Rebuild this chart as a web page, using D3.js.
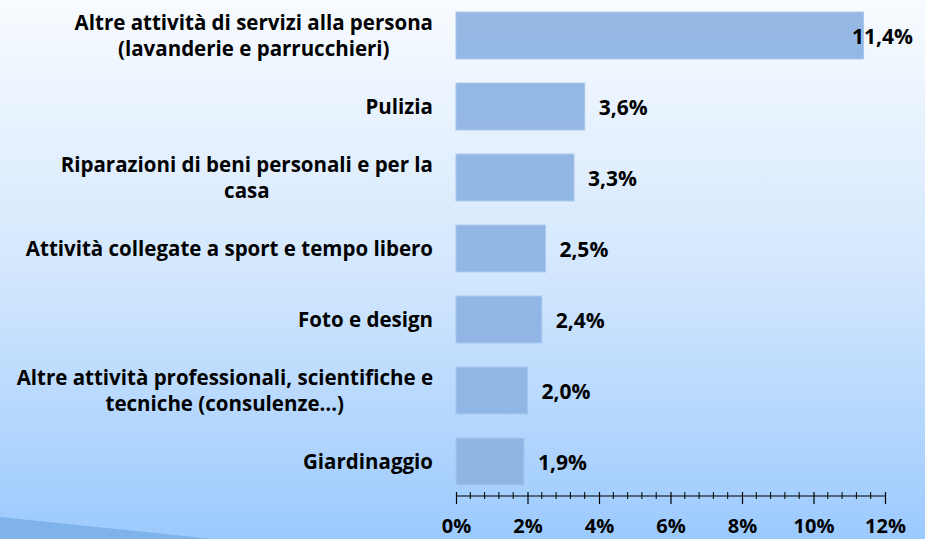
<!DOCTYPE html>
<html>
<head>
<meta charset="utf-8">
<script src="https://cdn.jsdelivr.net/npm/d3@7"></script>
<style>
  html, body { margin: 0; padding: 0; }
  body { width: 925px; height: 539px; overflow: hidden; }
  text { font-family: "Open Sans", Lato, sans-serif; font-weight: bold; fill: #000; }
</style>
</head>
<body>
<svg id="chart" width="925" height="539"></svg>
<script>
// ------------------- data -------------------
var categories = [
  ["Altre attività di servizi alla persona", "(lavanderie e parrucchieri)"],
  ["Pulizia"],
  ["Riparazioni di beni personali e per la", "casa"],
  ["Attività collegate a sport e tempo libero"],
  ["Foto e design"],
  ["Altre attività professionali, scientifiche e", "tecniche (consulenze…)"],
  ["Giardinaggio"]
];
var values = [11.4, 3.6, 3.3, 2.5, 2.4, 2.0, 1.9];
var valueLabels = ["11,4%", "3,6%", "3,3%", "2,5%", "2,4%", "2,0%", "1,9%"];
var tickValues = [0, 2, 4, 6, 8, 10, 12];
var tickLabels = ["0%", "2%", "4%", "6%", "8%", "10%", "12%"];

var W = 925, H = 539;
var svg = d3.select('#chart');

// ---------- background: vertical gradient + swoosh bottom left ----------
var defs = svg.append('defs');
var grad = defs.append('linearGradient')
  .attr('id', 'bg').attr('x1', 0).attr('y1', 0).attr('x2', 0).attr('y2', 1);
grad.append('stop').attr('offset', '0%').attr('stop-color', '#f8fbff');
grad.append('stop').attr('offset', '50%').attr('stop-color', '#d3e7fd');
grad.append('stop').attr('offset', '100%').attr('stop-color', '#9ccafe');

svg.append('rect').attr('width', W).attr('height', H).attr('fill', 'url(#bg)');
svg.append('path')
  .attr('d', 'M0,517 L213,539 L0,539 Z')
  .attr('fill', '#80b3ea');

// ---------------------------- scales ----------------------------
var x = d3.scaleLinear().domain([0, 12]).range([456, 885]);
var y = d3.scaleBand().domain(d3.range(values.length)).range([0, 497]).paddingInner(0.34).paddingOuter(0.17);

// ----------------------------- bars -----------------------------
svg.selectAll('rect.bar')
  .data(values)
  .enter()
  .append('rect')
  .attr('class', 'bar')
  .attr('x', x(0))
  .attr('y', (d, i) => y(i))
  .attr('width', d => x(d) - x(0))
  .attr('height', y.bandwidth())
  .attr('fill', '#8db3e3')
  .attr('fill-opacity', 0.93)
  .attr('stroke', '#a6c6ec')
  .attr('stroke-width', 1);

// ------------------------- value labels -------------------------
// the biggest one does not fit after the bar, so it sits at the right edge
svg.selectAll('text.val')
  .data(values)
  .enter()
  .append('text')
  .attr('class', 'val')
  .attr('font-size', 21)
  .attr('x', d => x(d) + 14 > 850 ? 913 : x(d) + 14)
  .attr('text-anchor', d => x(d) + 14 > 850 ? 'end' : 'start')
  .attr('y', (d, i) => y(i) + y.bandwidth() / 2 + 8)
  .text((d, i) => valueLabels[i]);

// ----------------------- category labels -----------------------
var cats = svg.selectAll('text.cat')
  .data(categories)
  .enter()
  .append('text')
  .attr('class', 'cat')
  .attr('font-size', 20.5)
  .attr('text-anchor', 'end')
  .attr('y', (d, i) => y(i) + y.bandwidth() / 2 + 7 - (d.length - 1) * 13);

cats.selectAll('tspan')
  .data(d => d.map((line, k) => ({line: line, k: k})))
  .enter()
  .append('tspan')
  .attr('x', 433)
  .attr('dy', d => d.k === 0 ? 0 : 26)
  .text(d => d.line);

// two-line labels are centred on their first line
cats.each(function () {
  var spans = d3.select(this).selectAll('tspan').nodes();
  if (spans.length > 1) {
    var c = 433 - spans[0].getComputedTextLength() / 2;
    spans.forEach(s => d3.select(s).attr('x', c).attr('text-anchor', 'middle'));
  }
});

// ----------------------------- axis -----------------------------
var axis = d3.axisBottom(x)
  .tickValues(tickValues)
  .tickFormat((d, i) => tickLabels[i])
  .tickSize(8);

var gAxis = svg.append('g')
  .attr('transform', 'translate(0,496)')
  .call(axis);

gAxis.select('.domain').attr('stroke', '#000').attr('stroke-width', 1.2)
  .attr('d', 'M' + x(0) + ',0H' + x(12));
gAxis.selectAll('.tick line').attr('y1', -4).attr('stroke', '#000').attr('stroke-width', 1.2);
gAxis.selectAll('.tick text')
  .attr('y', 37)
  .attr('dy', 0)
  .attr('font-size', 20)
  .attr('font-family', '"Open Sans", Lato, sans-serif')
  .attr('font-weight', 'bold')
  .attr('fill', '#000');

// minor ticks every 0.4%
var minor = d3.range(1, 30).map(k => k * 0.4).filter(v => Math.abs(v / 2 - Math.round(v / 2)) > 1e-6);
gAxis.selectAll('line.minor')
  .data(minor)
  .enter()
  .append('line')
  .attr('class', 'minor')
  .attr('x1', d => x(d)).attr('x2', d => x(d))
  .attr('y1', -4).attr('y2', 3)
  .attr('stroke', '#000')
  .attr('stroke-width', 1);
</script>
</body>
</html>
